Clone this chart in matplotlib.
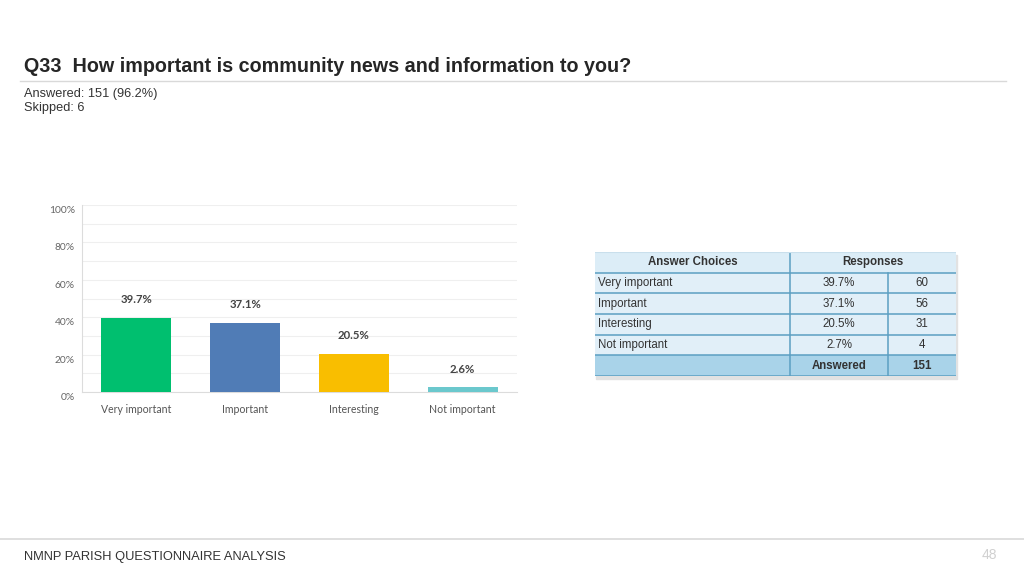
import matplotlib
matplotlib.use("Agg")
import matplotlib.pyplot as plt
import matplotlib.transforms as mtrans
from matplotlib.patches import Rectangle
from matplotlib.ticker import FuncFormatter, MultipleLocator

# ---- data ----
categories = ["Very important", "Important", "Interesting", "Not important"]
bar_values = [39.7, 37.1, 20.5, 2.6]
bar_labels = ["39.7%", "37.1%", "20.5%", "2.6%"]
bar_colors = ["#00BF6F", "#507CB6", "#F9BE00", "#6BC8CD"]
yticks = [0, 20, 40, 60, 80, 100]

table_choices = ["Very important", "Important", "Interesting", "Not important"]
table_pct = ["39.7%", "37.1%", "20.5%", "2.7%"]
table_counts = ["60", "56", "31", "4"]
answered_total = "151"

title = "Q33  How important is community news and information to you?"
answered_text = "Answered: 151 (96.2%)"
skipped_text = "Skipped: 6"
footer_text = "NMNP PARISH QUESTIONNAIRE ANALYSIS"
page_number = "48"

W, H = 1024, 576
fig = plt.figure(figsize=(W / 100, H / 100), dpi=100)
fig.patch.set_facecolor("white")


def px(x0, y0, x1, y1):
    return [x0 / W, 1 - y1 / H, (x1 - x0) / W, (y1 - y0) / H]


# ---- header texts ----
fig.text(24 / W, 1 - 66 / H, title, fontsize=14.2, fontweight="bold",
         family="Liberation Sans", color="#262626", va="center", ha="left")
fig.add_artist(plt.Line2D([20 / W, 1006 / W], [1 - 81 / H, 1 - 81 / H],
                          color="#d9d9d9", lw=1))
fig.text(24 / W, 1 - 94 / H, answered_text, fontsize=9.2,
         family="Liberation Sans", color="#333333", va="center")
fig.text(24 / W, 1 - 108.5 / H, skipped_text, fontsize=9.2,
         family="Liberation Sans", color="#333333", va="center")

# footer
fig.add_artist(plt.Line2D([0, 1], [1 - 539 / H, 1 - 539 / H],
                          color="#d9d9d9", lw=1.2))
fig.text(24 / W, 1 - 557 / H, footer_text, fontsize=9.3,
         family="Liberation Sans", color="#333333", va="center")
fig.text(997 / W, 1 - 555 / H, page_number, fontsize=10,
         family="Liberation Sans", color="#d0d0d0", va="center", ha="right")

# ---- bar chart ----
ax = fig.add_axes(px(82, 205, 517, 392))
x = list(range(len(categories)))
ax.bar(x, bar_values, width=0.645, color=bar_colors, zorder=3)
ax.set_xlim(-0.5, len(categories) - 0.5)
ax.set_ylim(0, 100)
ax.set_yticks(yticks)
ax.yaxis.set_minor_locator(MultipleLocator(10))
ax.yaxis.set_major_formatter(FuncFormatter(lambda v, p: f"{int(v)}%"))
ax.grid(axis="y", which="both", color="#efefef", lw=0.8, zorder=0)
for s in ["top", "right"]:
    ax.spines[s].set_visible(False)
ax.spines["left"].set_color("#dcdcdc")
ax.spines["bottom"].set_color("#dcdcdc")
ax.tick_params(axis="y", which="both", length=0, pad=5, labelsize=7.4,
               labelcolor="#666666")
ax.tick_params(axis="x", length=0, pad=8.5, labelsize=7.6, labelcolor="#555555")
ax.set_xticks(x)
ax.set_xticklabels(categories, family="Lato")
offset = mtrans.ScaledTranslation(0, -4.5 / 100, fig.dpi_scale_trans)
for lab in ax.get_yticklabels():
    lab.set_family("Lato")
    lab.set_transform(lab.get_transform() + offset)

for xi, v, lbl in zip(x, bar_values, bar_labels):
    ax.annotate(lbl, (xi, v), xytext=(0, 9), textcoords="offset points",
                ha="center", va="bottom", fontsize=8.2, fontweight="bold",
                family="Lato", color="#444444")

# ---- table ----
tax = fig.add_axes(px(595, 252, 956, 376))
tw = 361.0
col_edges = [0, 195, 293, tw]
nrows = len(table_choices) + 2
tax.set_xlim(0, tw)
tax.set_ylim(nrows, 0)
tax.axis("off")

# shadow
tax.add_patch(Rectangle((1, 0.15), tw, nrows, color="#e2e2e2", zorder=0,
                        clip_on=False))
border = "#5b9fc2"
row_fill = ["#dcedf7"] + ["#e1eff8"] * len(table_choices) + ["#a9d3e9"]
for r in range(nrows):
    tax.add_patch(Rectangle((0, r), tw, 1, facecolor=row_fill[r],
                            edgecolor="none", zorder=1))
for r in range(1, nrows + 1):
    tax.plot([0, tw], [r, r], color=border, lw=1.1, zorder=2)
tax.plot([col_edges[1], col_edges[1]], [0, nrows], color=border, lw=1.1, zorder=2)
tax.plot([col_edges[2], col_edges[2]], [1, nrows], color=border, lw=1.1, zorder=2)
tax.plot([0, tw], [0, 0], color="#c9dfec", lw=0.8, zorder=2)

tkw = dict(family="Liberation Sans", fontsize=8.3, color="#333333", va="center")
tax.text(col_edges[1] / 2, 0.5, "Answer Choices", ha="center",
         fontweight="bold", **tkw)
tax.text((col_edges[1] + tw) / 2, 0.5, "Responses", ha="center",
         fontweight="bold", **tkw)
for i, (c, p, n) in enumerate(zip(table_choices, table_pct, table_counts)):
    r = i + 1.5
    tax.text(3, r, c, ha="left", **tkw)
    tax.text((col_edges[1] + col_edges[2]) / 2, r, p, ha="center", **tkw)
    tax.text((col_edges[2] + tw) / 2, r, n, ha="center", **tkw)
tax.text((col_edges[1] + col_edges[2]) / 2, nrows - 0.5, "Answered",
         ha="center", fontweight="bold", **tkw)
tax.text((col_edges[2] + tw) / 2, nrows - 0.5, answered_total,
         ha="center", fontweight="bold", **tkw)

fig.savefig("out.png", dpi=100, facecolor="white")
